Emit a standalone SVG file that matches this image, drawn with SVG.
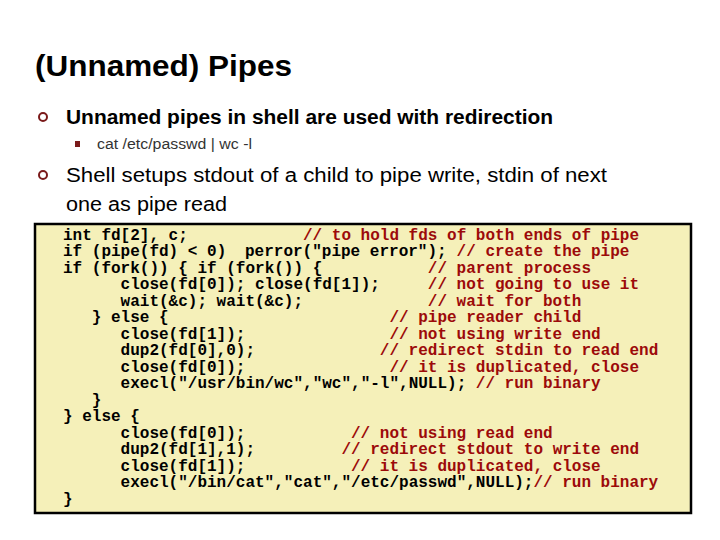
<svg xmlns="http://www.w3.org/2000/svg" width="720" height="540" viewBox="0 0 720 540">
<style>
.title{font-family:"Liberation Sans",Arial,sans-serif;font-weight:bold;font-size:30px;fill:#000}
.b1{font-family:"Liberation Sans",Arial,sans-serif;font-size:20px;fill:#000}
.sub{font-family:"Liberation Sans",Arial,sans-serif;font-size:14px;fill:#333}
.ring{fill:none;stroke:#7a1a1a;stroke-width:2}
.code{font-family:"Liberation Mono","Courier New",monospace;font-weight:bold;font-size:16px;fill:#000}
.cm{fill:#9c0a0a}
</style>
<rect width="720" height="540" fill="#fff"/>
<g id="title"><text class="title" x="35" y="76" textLength="257" lengthAdjust="spacingAndGlyphs">(Unnamed) Pipes</text></g>
<g id="bullet1">
<circle class="ring" cx="43" cy="117" r="4"/>
<text class="b1" x="66" y="124" font-weight="bold" textLength="487" lengthAdjust="spacingAndGlyphs">Unnamed pipes in shell are used with redirection</text>
</g>
<g id="subbullet">
<rect x="75" y="141" width="5" height="6" fill="#7a1a1a"/>
<text class="sub" x="97" y="149" textLength="155" lengthAdjust="spacingAndGlyphs">cat /etc/passwd | wc -l</text>
</g>
<g id="bullet2">
<circle class="ring" cx="43" cy="175" r="4"/>
<text class="b1" x="66" y="182" textLength="541" lengthAdjust="spacingAndGlyphs">Shell setups stdout of a child to pipe write, stdin of next</text>
<text class="b1" x="66" y="211" textLength="161" lengthAdjust="spacingAndGlyphs">one as pipe read</text>
</g>
<g id="codebox">
<rect x="35" y="224" width="656" height="289" fill="#f5f0b9" stroke="#000" stroke-width="2.5"/>
<text class="code">
<tspan x="63" y="239.5">int fd[2], c;</tspan><tspan class="cm" x="303">// to hold fds of both ends of pipe</tspan>
<tspan x="63" y="256">if (pipe(fd) &lt; 0)</tspan><tspan x="245">perror("pipe error");</tspan><tspan class="cm" x="456.6">// create the pipe</tspan>
<tspan x="63" y="272.5">if (fork()) { if (fork()) {</tspan><tspan class="cm" x="427.8">// parent process</tspan>
<tspan x="120.6" y="289">close(fd[0]); close(fd[1]);</tspan><tspan class="cm" x="427.8">// not going to use it</tspan>
<tspan x="120.6" y="305.5">wait(&amp;c); wait(&amp;c);</tspan><tspan class="cm" x="427.8">// wait for both</tspan>
<tspan x="91.8" y="322">} else {</tspan><tspan class="cm" x="389.4">// pipe reader child</tspan>
<tspan x="120.6" y="338.5">close(fd[1]);</tspan><tspan class="cm" x="389.4">// not using write end</tspan>
<tspan x="120.6" y="355">dup2(fd[0],0);</tspan><tspan class="cm" x="379.8">// redirect stdin to read end</tspan>
<tspan x="120.6" y="371.5">close(fd[0]);</tspan><tspan class="cm" x="389.4">// it is duplicated, close</tspan>
<tspan x="120.6" y="388">execl("/usr/bin/wc","wc","-l",NULL);</tspan><tspan class="cm" x="475.8">// run binary</tspan>
<tspan x="91.8" y="404.5">}</tspan>
<tspan x="63" y="421">} else {</tspan>
<tspan x="120.6" y="437.5">close(fd[0]);</tspan><tspan class="cm" x="351">// not using read end</tspan>
<tspan x="120.6" y="454">dup2(fd[1],1);</tspan><tspan class="cm" x="341.4">// redirect stdout to write end</tspan>
<tspan x="120.6" y="470.5">close(fd[1]);</tspan><tspan class="cm" x="351">// it is duplicated, close</tspan>
<tspan x="120.6" y="487">execl("/bin/cat","cat","/etc/passwd",NULL);</tspan><tspan class="cm" x="533.4">// run binary</tspan>
<tspan x="63" y="503.5">}</tspan>
</text>
</g>
</svg>
